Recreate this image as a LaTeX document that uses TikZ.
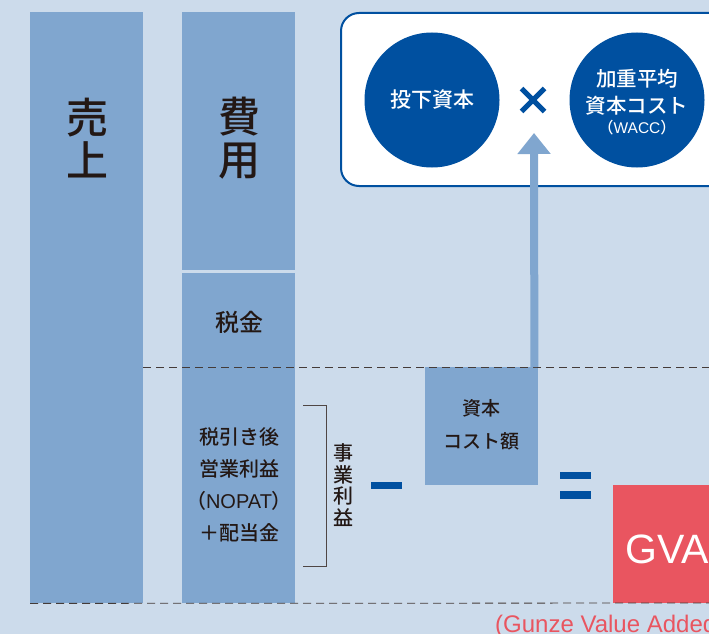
\documentclass[tikz,border=0pt]{standalone}
\usepackage{fontspec}
\setmainfont{Noto Sans CJK JP}[UprightFont=* Medium]
\newfontfamily\lat{Liberation Sans}
\usetikzlibrary{arrows.meta,calc}
\definecolor{bg}{HTML}{CCDBEB}
\definecolor{bar}{HTML}{80A6CF}
\definecolor{navy}{HTML}{0050A0}
\definecolor{gvared}{HTML}{E95560}
\definecolor{ink}{HTML}{231815}
\tikzset{
  barbox/.style={fill=bar, inner sep=0pt, anchor=north west, minimum width=113pt},
  circ/.style={circle, fill=navy, text=white, minimum size=135pt, inner sep=0pt, align=center},
  dashline/.style={draw=ink!85, line width=0.8pt, dash pattern=on 8pt off 5pt},
  lbl/.style={text=ink, inner sep=0pt, align=center},
  bigarrow/.style={draw=bar, line width=8pt, -{Triangle[length=21pt,width=32pt]}},
  signbar/.style={fill=navy, inner sep=0pt, anchor=north west, minimum width=31pt}
}
\begin{document}
\begin{tikzpicture}[x=1pt,y=-1pt]
\useasboundingbox (0,0) rectangle (709,634);
\clip (0,0) rectangle (709,634);
\fill[bg] (0,0) rectangle (709,634);

% bars
\node[barbox, minimum height=591pt] (sales) at (30,12) {};
\node[barbox, minimum height=258pt] (cost) at (182,12) {};
\node[barbox, minimum height=94pt] (tax) at (182,273) {};
\node[barbox, minimum height=236pt] (nopat) at (182,367) {};
\node[barbox, minimum height=118pt] (capcost) at (425,367) {};
\node[fill=gvared, inner sep=0pt, anchor=north west, minimum width=130pt, minimum height=118pt] (gva) at (613,485) {};

% labels in bars
\node[lbl, font=\fontsize{42}{43}\selectfont] (salest) at (87,138) {売\\上};
\node[lbl, font=\fontsize{42}{43}\selectfont] (costt) at (239,138) {費\\用};
\node[lbl, font=\fontsize{24}{24}\selectfont] (taxt) at (239,322) {税金};
\node[lbl, font=\fontsize{20}{32}\selectfont] (nopatt) at (239,485) {税引き後\\営業利益\\（{\lat NOPAT}）\\＋配当金};
\node[lbl, font=\fontsize{19}{33}\selectfont] (capcostt) at (481,425) {資本\\コスト額};
\node[anchor=west, inner sep=0pt, text=white, font=\lat\fontsize{41}{41}\selectfont] (gvat) at (625,549) {GVA};
\node[anchor=base west, inner sep=0pt, text=gvared, font=\lat\fontsize{24}{24}\selectfont] (gvasub) at (495,632) {(Gunze Value Added)};

% dashed lines
\draw[dashline] (sales.east |- 0,367) -- (709,367);
\draw[dashline] (sales.south west) -- (709,603);

% bracket and vertical label
\coordinate (brTop) at (303,405);
\coordinate (brBot) at (303,566);
\draw[ink!80, line width=0.9pt] (brTop) -- ++(23,0) -- ($(brBot)+(23,0)$) -- (brBot);
\node[lbl, font=\fontsize{20}{21.5}\selectfont] (bizprofit) at (343,485) {事\\業\\利\\益};

% minus and equals
\node[signbar, minimum height=7pt] (minus) at (371,482) {};
\node[signbar, minimum height=7pt] (eqtop) at (560,472) {};
\node[signbar, minimum height=8pt] (eqbot) at (560,491) {};

% top panel
\node[draw=navy, line width=2pt, fill=white, rounded corners=18pt, anchor=north west, minimum width=420pt, minimum height=173pt] (panel) at (340,12) {};
\node[circ, font=\fontsize{21}{21}\selectfont] (invest) at (432,100) {投下資本};
\node[circ] (wacc) at (637,100) {};
\node[lbl, text=white, font=\fontsize{20.5}{27}\selectfont] (wacct) at (637,92) {加重平均\\資本コスト};
\node[lbl, text=white, font=\fontsize{15.5}{15.5}\selectfont] (wacct2) at (637,128) {（{\lat WACC}）};
\coordinate (times) at (533,100);
\draw[navy, line width=5pt] ($(times)+(-11.5,-11.5)$) -- ($(times)+(11.5,11.5)$);
\draw[navy, line width=5pt] ($(times)+(-11.5,11.5)$) -- ($(times)+(11.5,-11.5)$);

% arrow
\coordinate (tip) at (534,133);
\draw[bigarrow] ([xshift=-4pt]capcost.north east) -- (tip);
\end{tikzpicture}
\end{document}
